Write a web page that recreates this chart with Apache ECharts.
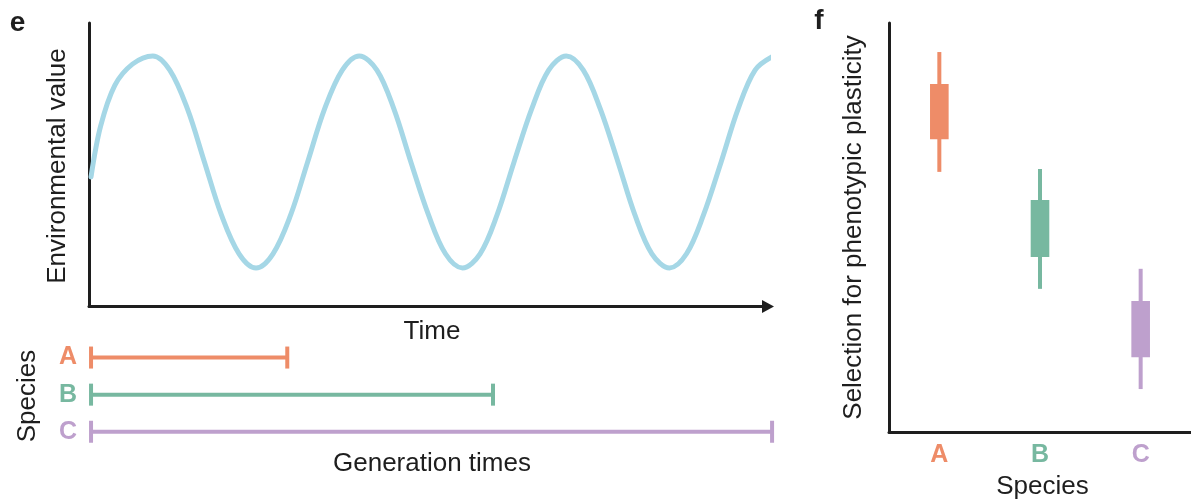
<!DOCTYPE html>
<html>
<head>
<meta charset="utf-8">
<script src="https://cdn.jsdelivr.net/npm/echarts@6/dist/echarts.min.js"></script>
<style>
  html, body { margin: 0; padding: 0; background: #ffffff; }
  #chart { width: 1191px; height: 502px; }
</style>
</head>
<body>
<div id="chart"></div>
<script>
// ---------- Data ----------
// Panel e: environmental value through time (arbitrary units)
const envTime  = [0.03, 0.17, 0.38, 0.64, 0.94, 1.19, 1.45, 1.70, 1.95, 2.21, 2.46, 2.71, 2.97, 3.22, 3.47, 3.73,
                  3.98, 4.24, 4.49, 4.74, 5.00, 5.25, 5.50, 5.76, 6.01, 6.26, 6.52, 6.77,
                  7.03, 7.28, 7.53, 7.79, 8.04, 8.29, 8.55, 8.80, 9.05, 9.31, 9.56, 9.81, 10.07];
const envValue = [4.57, 6.35, 7.80, 8.55, 8.84, 8.34, 6.97, 5.10, 3.23, 1.86, 1.36, 1.86, 3.23, 5.10, 6.97, 8.34,
                  8.84, 8.34, 6.97, 5.10, 3.23, 1.86, 1.36, 1.86, 3.23, 5.10, 6.97, 8.34,
                  8.84, 8.34, 6.97, 5.10, 3.23, 1.86, 1.36, 1.86, 3.23, 5.10, 6.97, 8.34, 8.82];

// Species and generation times (same time units as panel e)
const species = ['A', 'B', 'C'];
const genStart = [0.03, 0.03, 0.03];
const genEnd   = [2.92, 5.95, 10.06];

// Panel f: selection for phenotypic plasticity (arbitrary 0-100 scale)
const whiskerLow  = [63.6, 35.0, 10.5];
const boxLow      = [71.6, 42.8, 18.3];
const boxHigh     = [85.1, 56.7, 32.0];
const whiskerHigh = [92.9, 64.3, 39.9];

// ---------- Styling ----------
const speciesColors = ['#EE8C68', '#77B8A0', '#BEA0CD'];
const waveColor = '#A5D7E6';
const ink = '#1E1E1E';
const FONT = '"Liberation Sans", Arial, Helvetica, sans-serif';

const chart = echarts.init(document.getElementById('chart'), null, { renderer: 'canvas' });

const genSeries = species.map((s, i) => ({
  type: 'line',
  xAxisIndex: 1,
  yAxisIndex: 1,
  data: [[genStart[i], s], [genEnd[i], s]],
  symbol: 'rect',
  symbolSize: [4, 22],
  showSymbol: true,
  clip: false,
  silent: true,
  lineStyle: { color: speciesColors[i], width: 4 },
  itemStyle: { color: speciesColors[i] },
  emphasis: { disabled: true },
  z: 3
}));

const boxData = species.map((s, i) => [i, whiskerLow[i], boxLow[i], boxHigh[i], whiskerHigh[i]]);

const option = {
  animation: false,
  backgroundColor: '#ffffff',
  grid: [
    { left: 89, top: 23, width: 679, height: 283.5 },     // panel e, wave
    { left: 89, top: 339, width: 679, height: 111.3 },    // panel e, generation times
    { left: 889, top: 23, width: 307.5, height: 409 }     // panel f
  ],
  xAxis: [
    {
      type: 'value', gridIndex: 0, min: 0, max: 10,
      axisLine: { show: true, symbol: ['none', 'triangle'], symbolSize: [13, 12], lineStyle: { color: ink, width: 3 } },
      axisTick: { show: false }, axisLabel: { show: false }, splitLine: { show: false }
    },
    {
      type: 'value', gridIndex: 1, min: 0, max: 10,
      axisLine: { show: false }, axisTick: { show: false }, axisLabel: { show: false }, splitLine: { show: false }
    },
    {
      type: 'category', gridIndex: 2, data: species, boundaryGap: true,
      axisLine: { show: true, lineStyle: { color: ink, width: 3 } },
      axisTick: { show: false },
      axisLabel: {
        margin: 11,
        fontFamily: FONT, fontSize: 25, fontWeight: 'bold',
        color: (v, idx) => speciesColors[species.indexOf(v)]
      },
      splitLine: { show: false }
    }
  ],
  yAxis: [
    {
      type: 'value', gridIndex: 0, min: 0, max: 10,
      axisLine: { show: true, lineStyle: { color: ink, width: 3 } },
      axisTick: { show: false }, axisLabel: { show: false }, splitLine: { show: false }
    },
    {
      type: 'category', gridIndex: 1, data: species, inverse: true, boundaryGap: true,
      axisLine: { show: false }, axisTick: { show: false }, splitLine: { show: false },
      axisLabel: {
        margin: 12,
        fontFamily: FONT, fontSize: 25, fontWeight: 'bold',
        color: (v, idx) => speciesColors[species.indexOf(v)]
      }
    },
    {
      type: 'value', gridIndex: 2, min: 0, max: 100,
      axisLine: { show: true, lineStyle: { color: ink, width: 3 } },
      axisTick: { show: false }, axisLabel: { show: false }, splitLine: { show: false }
    }
  ],
  series: [
    {
      type: 'line',
      xAxisIndex: 0, yAxisIndex: 0,
      data: envTime.map((t, i) => [t, envValue[i]]),
      smooth: 0.35,
      showSymbol: false,
      clip: false,
      silent: true,
      lineStyle: { color: waveColor, width: 5, cap: 'round', join: 'round' },
      z: 2
    },
    ...genSeries,
    {
      type: 'custom',
      xAxisIndex: 2, yAxisIndex: 2,
      data: boxData,
      encode: { x: 0, y: [1, 2, 3, 4] },
      silent: true,
      renderItem: function (params, api) {
        const x = api.value(0);
        const lo = api.coord([x, api.value(1)]);
        const q1 = api.coord([x, api.value(2)]);
        const q3 = api.coord([x, api.value(3)]);
        const hi = api.coord([x, api.value(4)]);
        const band = api.size([1, 0])[0];
        const w = band * 0.185;
        const color = speciesColors[params.dataIndex];
        return {
          type: 'group',
          children: [
            { type: 'line', shape: { x1: lo[0], y1: lo[1], x2: hi[0], y2: hi[1] }, style: { stroke: color, lineWidth: 4 } },
            { type: 'rect', shape: { x: q3[0] - w / 2, y: q3[1], width: w, height: q1[1] - q3[1] }, style: { fill: color } }
          ]
        };
      }
    }
  ],
  graphic: [
    { type: 'text', x: 17.5, y: 23, style: { text: 'e', x: 0, y: 0, align: 'center', verticalAlign: 'middle', font: 'bold 28px ' + FONT, fill: ink } },
    { type: 'text', x: 819, y: 21, style: { text: 'f', x: 0, y: 0, align: 'center', verticalAlign: 'middle', font: 'bold 28px ' + FONT, fill: ink } },
    { type: 'text', x: 58, y: 166, rotation: Math.PI / 2, style: { text: 'Environmental value', x: 0, y: 0, align: 'center', verticalAlign: 'middle', font: '26px ' + FONT, fill: ink } },
    { type: 'text', x: 432, y: 332, style: { text: 'Time', x: 0, y: 0, align: 'center', verticalAlign: 'middle', font: '26px ' + FONT, fill: ink } },
    { type: 'text', x: 28, y: 396, rotation: Math.PI / 2, style: { text: 'Species', x: 0, y: 0, align: 'center', verticalAlign: 'middle', font: '26px ' + FONT, fill: ink } },
    { type: 'text', x: 432, y: 464, style: { text: 'Generation times', x: 0, y: 0, align: 'center', verticalAlign: 'middle', font: '26px ' + FONT, fill: ink } },
    { type: 'text', x: 853.5, y: 227.5, rotation: Math.PI / 2, style: { text: 'Selection for phenotypic plasticity', x: 0, y: 0, align: 'center', verticalAlign: 'middle', font: '26px ' + FONT, fill: ink } },
    { type: 'text', x: 1042.5, y: 486.5, style: { text: 'Species', x: 0, y: 0, align: 'center', verticalAlign: 'middle', font: '26px ' + FONT, fill: ink } }
  ]
};

chart.setOption(option);
</script>
</body>
</html>
